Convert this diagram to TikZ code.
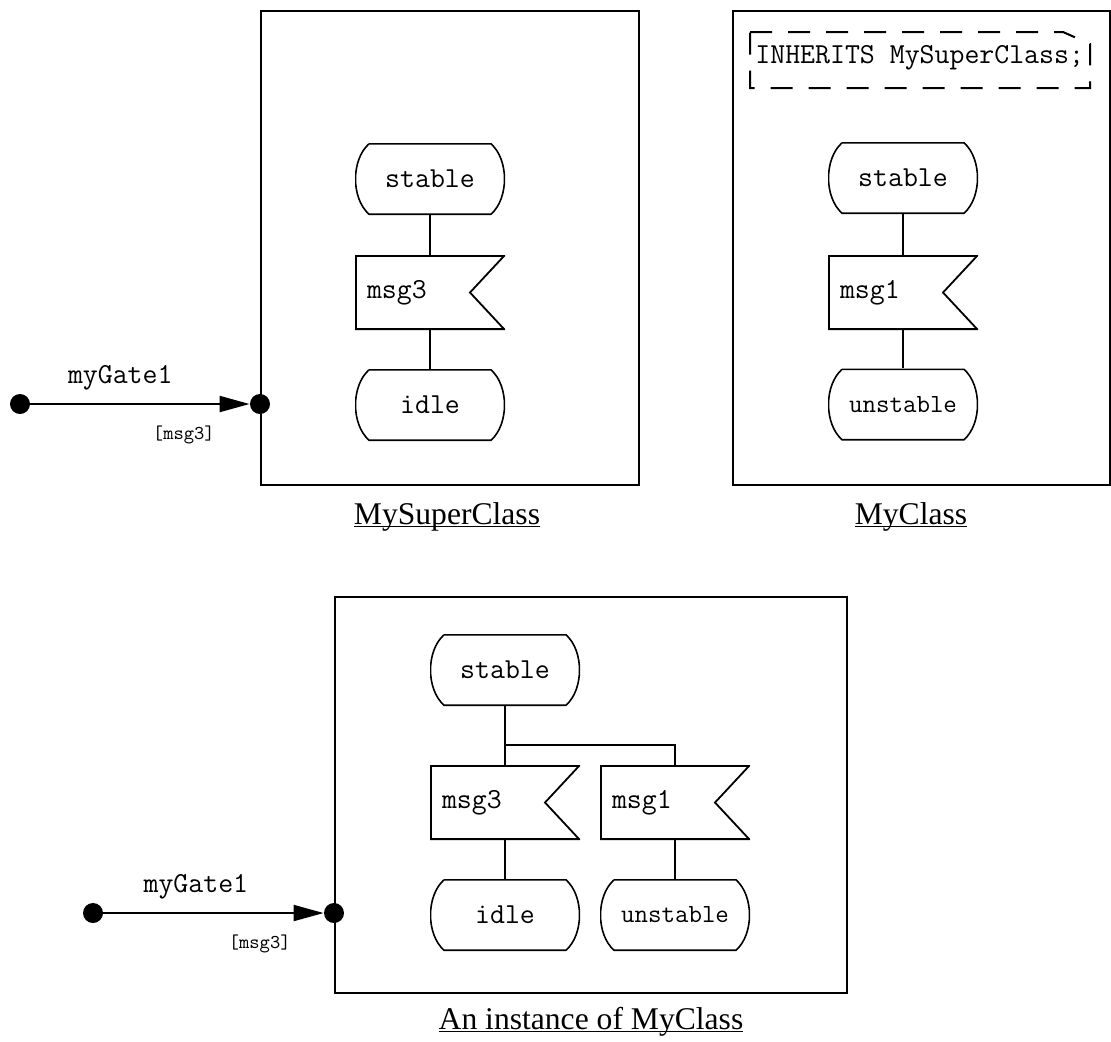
\documentclass[tikz,border=0pt]{standalone}
\usepackage{fontspec}
\setmainfont{Liberation Serif}
\usetikzlibrary{arrows.meta,positioning}

\newcommand{\statefont}{\ttfamily\fontsize{14.5}{17}\selectfont}
\newcommand{\smallcourier}{\ttfamily\fontsize{9.8}{12}\selectfont}
\newcommand{\longstatefont}{\ttfamily\fontsize{13.1}{15}\selectfont}
\newcommand{\capfont}{\fontsize{15.8}{18}\selectfont}
\newcommand{\classname}[1]{\underline{\smash{#1}}}

\begin{document}
\begin{tikzpicture}[
    x=0.5pt, y=-0.5pt,
    frame/.style={draw, line width=1pt, anchor=north west, inner sep=0pt},
    state/.style={minimum width=75pt, minimum height=36pt, inner sep=0pt, font=\statefont,
        path picture={
            \draw[line width=0.8pt]
                ([shift={(7pt,-0.4pt)}]path picture bounding box.north west)
                -- ([shift={(-7pt,-0.4pt)}]path picture bounding box.north east)
                .. controls +(9pt,-8pt) and +(9pt,8pt) ..
                ([shift={(-7pt,0.4pt)}]path picture bounding box.south east)
                -- ([shift={(7pt,0.4pt)}]path picture bounding box.south west)
                .. controls +(-9pt,8pt) and +(-9pt,-8pt) ..
                ([shift={(7pt,-0.4pt)}]path picture bounding box.north west);
        }},
    inputsig/.style={minimum width=75pt, minimum height=37.5pt, text width=63pt, align=left,
        inner xsep=6pt, inner ysep=0pt, font=\statefont,
        path picture={
            \draw[line width=0.9pt]
                ([shift={(0.45pt,-0.45pt)}]path picture bounding box.north west)
                -- ([shift={(-0.45pt,-0.45pt)}]path picture bounding box.north east)
                -- ([xshift=-17.5pt]path picture bounding box.east)
                -- ([shift={(-0.45pt,0.45pt)}]path picture bounding box.south east)
                -- ([shift={(0.45pt,0.45pt)}]path picture bounding box.south west)
                -- cycle;
        }},
    flow/.style={line width=1pt},
    gatedot/.style={circle, fill=black, inner sep=0pt, minimum size=10pt},
    gatearrow/.style={line width=1pt, -{Triangle[length=15pt,width=8pt]}},
    caption/.style={font=\capfont, anchor=base},
    comment/.style={line width=1pt, dash pattern=on 11pt off 8pt}
]
    \useasboundingbox (0,0) rectangle (1111,1041);

    % MySuperClass
    \node[frame, minimum width=189pt, minimum height=237pt] (frame1) at (260,10) {};
    \node[state] (stable1) at (430,179) {stable};
    \node[inputsig] (msg3a) at (430,292.5) {msg3\\[-3pt]};
    \node[state] (idle1) at (430,405) {idle};
    \draw[flow] (stable1) -- (msg3a);
    \draw[flow] (msg3a) -- (idle1);
    \node[gatedot] (gateA) at (20,404) {};
    \node[gatedot] (gateAin) at (260,404) {};
    \draw[gatearrow] (gateA) -- (gateAin)
        node[pos=0.41, above=3pt, font=\statefont] {myGate1}
        node[pos=0.70, below=7pt, font=\smallcourier] {[msg3]};
    \node[caption] (cap1) at (447,524) {\classname{MySuperClass}};

    % MyClass
    \node[frame, minimum width=188.5pt, minimum height=237pt] (frame2) at (732,10) {};
    \node[anchor=west, font=\statefont, inner sep=0pt] (inh) at (755,58) {INHERITS MySuperClass;};
    \draw[comment] (750,32) -- (1063,32) -- (1090,44) -- (1090,88) -- (750,88) -- cycle;
    \node[state] (stable2) at (903,178) {stable};
    \node[inputsig] (msg1a) at (903,292.5) {msg1\\[-3pt]};
    \node[state, font=\longstatefont] (unstable2) at (903,404.5) {unstable};
    \draw[flow] (stable2) -- (msg1a);
    \draw[flow] (msg1a) -- (unstable2);
    \node[caption] (cap2) at (911,524) {\classname{MyClass}};

    % An instance of MyClass
    \node[frame, minimum width=256pt, minimum height=198pt] (frame3) at (334,596) {};
    \node[state] (stable3) at (505,670) {stable};
    \node[inputsig] (msg3b) at (505,802.5) {msg3\\[-3pt]};
    \node[inputsig] (msg1b) at (675,802.5) {msg1\\[-3pt]};
    \node[state] (idle3) at (505,915) {idle};
    \node[state, font=\longstatefont] (unstable3) at (675,915) {unstable};
    \coordinate (fork) at (505,745);
    \draw[flow] (stable3) -- (msg3b);
    \draw[flow] (fork) -| (msg1b);
    \draw[flow] (msg3b) -- (idle3);
    \draw[flow] (msg1b) -- (unstable3);
    \node[gatedot] (gateB) at (93,913) {};
    \node[gatedot] (gateBin) at (334,913) {};
    \draw[gatearrow] (gateB) -- (gateBin)
        node[pos=0.42, above=3pt, font=\statefont] {myGate1}
        node[pos=0.71, below=7pt, font=\smallcourier] {[msg3]};
    \node[caption] (cap3) at (591,1029) {\classname{An instance of MyClass}};

\end{tikzpicture}
\end{document}
